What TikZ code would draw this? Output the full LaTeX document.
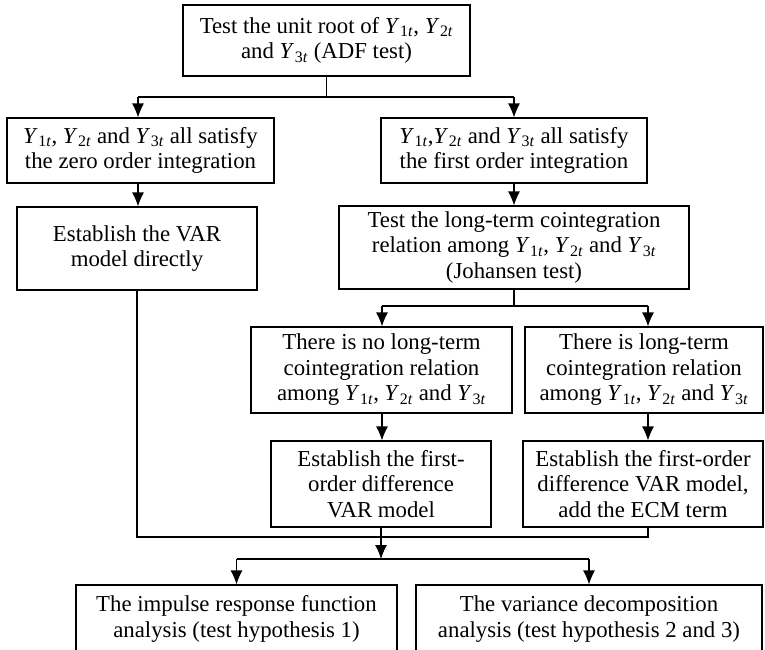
\documentclass[tikz,border=0pt]{standalone}
\usepackage{fontspec}
\setmainfont{Liberation Serif}
\usetikzlibrary{arrows.meta}
\newcommand{\Yt}[1]{\textit{Y}\kern0.5pt\textsubscript{#1\textit{t}}}
\begin{document}
\begin{tikzpicture}[x=1pt,y=-1pt,
  box/.style={draw, line width=1.1pt, inner sep=0pt, align=center,
    font=\fontsize{22.8}{25.5}\selectfont},
  conn/.style={line width=1.1pt},
  arr/.style={conn,-{Latex[length=14pt,width=12pt]}}]
\useasboundingbox (0,0) rectangle (765,649);
\fill[white] (0,0) rectangle (765,649);
\clip (0,0) rectangle (765,649);

\node[box, minimum width=287pt, minimum height=71pt] (top) at (326.5,40.5)
  {Test the unit root of \Yt1, \Yt2\\ and \Yt3 (ADF test)};
\node[box, minimum width=267pt, minimum height=65pt] (zero) at (140.5,150.5)
  {\Yt1, \Yt2 and \Yt3 all satisfy\\ the zero order integration};
\node[box, minimum width=240pt, minimum height=83pt] (var) at (137,248.5)
  {Establish the VAR\\ model directly};
\node[box, minimum width=266pt, minimum height=65pt] (first) at (514,150.5)
  {\Yt1,\Yt2 and \Yt3 all satisfy\\ the first order integration};
\node[box, minimum width=350pt, minimum height=83pt] (joh) at (514,247.5)
  {Test the long-term cointegration\\ relation among \Yt1, \Yt2 and \Yt3\\ (Johansen test)};
\node[box, minimum width=261pt, minimum height=86pt] (no) at (381.5,370)
  {There is no long-term\\ cointegration relation\\ among \Yt1, \Yt2 and \Yt3};
\node[box, minimum width=238pt, minimum height=86pt] (yes) at (644,370)
  {There is long-term\\ cointegration relation\\ among \Yt1, \Yt2 and \Yt3};
\node[box, minimum width=220pt, minimum height=86pt] (est1) at (381,484)
  {Establish the first-\\ order difference\\ VAR model};
\node[box, minimum width=240pt, minimum height=86pt] (est2) at (643,484)
  {Establish the first-order\\ difference VAR model,\\ add the ECM term};
\node[box, minimum width=321pt, minimum height=68pt] (irf) at (236.5,619)
  {The impulse response function\\ analysis (test hypothesis 1)};
\node[box, minimum width=346pt, minimum height=68pt] (vd) at (589,619)
  {The variance decomposition\\ analysis (test hypothesis 2 and 3)};

% top split
\coordinate (t0) at (326.5,97);
\coordinate (tl) at (138,97);
\coordinate (tr) at (514,97);
\draw[conn] (top.south) -- (t0);
\draw[conn] (tl) -- (tr);
\draw[arr] (tl) -- (tl |- zero.north);
\draw[arr] (tr) -- (tr |- first.north);
\draw[arr] (tl |- zero.south) -- (tl |- var.north);
\draw[arr] (first.south) -- (joh.north);

% johansen split
\coordinate (j0) at (514,306);
\coordinate (jl) at (382,306);
\coordinate (jr) at (648,306);
\draw[conn] (joh.south) -- (j0);
\draw[conn] (jl) -- (jr);
\draw[arr] (jl) -- (jl |- no.north);
\draw[arr] (jr) -- (jr |- yes.north);
\draw[arr] (jl |- no.south) -- (jl |- est1.north);
\draw[arr] (jr |- yes.south) -- (jr |- est2.north);

% merge
\coordinate (ml) at (137,537);
\coordinate (mr) at (648,537);
\coordinate (mc) at (381,537);
\coordinate (b0) at (381,559);
\coordinate (bl) at (236.5,559);
\coordinate (br) at (589,559);
\draw[conn] (var.south) -- (ml) -- (mr) -- (mr |- est2.south);
\draw[conn] (est1.south) -- (mc);
\draw[arr] (mc) -- (b0);
\draw[conn] (bl) -- (br);
\draw[arr] (bl) -- (irf.north);
\draw[arr] (br) -- (vd.north);
\end{tikzpicture}
\end{document}
